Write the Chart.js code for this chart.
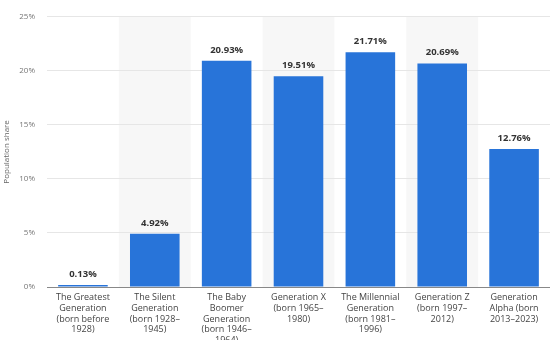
<!DOCTYPE html>
<html><head><meta charset="utf-8">
<script src="https://cdn.jsdelivr.net/npm/chart.js@4/dist/chart.umd.min.js"></script>
<style>html,body{margin:0;padding:0;background:#fff}#wrap{width:550px;height:340px}</style>
</head><body><div id="wrap"><canvas id="c" width="550" height="340"></canvas></div>
<script>
const categories = [
  ["The Greatest","Generation","(born before","1928)"],
  ["The Silent","Generation","(born 1928–","1945)"],
  ["The Baby","Boomer","Generation","(born 1946–","1964)"],
  ["Generation X","(born 1965–","1980)"],
  ["The Millennial","Generation","(born 1981–","1996)"],
  ["Generation Z","(born 1997–","2012)"],
  ["Generation","Alpha (born","2013–2023)"]
];
const shares = [0.13, 4.92, 20.93, 19.51, 21.71, 20.69, 12.76];
const yTicks = [0, 5, 10, 15, 20, 25];

const bandPlugin = {
  id: 'bands',
  beforeDraw(chart) {
    const {ctx, chartArea, scales} = chart;
    const x = scales.x;
    ctx.save();
    ctx.fillStyle = '#f7f7f7';
    const w = (chartArea.right - chartArea.left) / categories.length;
    for (let i = 1; i < categories.length; i += 2) {
      const cx = x.getPixelForValue(i);
      ctx.fillRect(cx - w/2, chartArea.top, w, chartArea.bottom - chartArea.top);
    }
    ctx.restore();
  }
};
const labelPlugin = {
  id: 'vals',
  afterDatasetsDraw(chart) {
    const {ctx} = chart;
    const meta = chart.getDatasetMeta(0);
    ctx.save();
    ctx.font = 'bold 9.5px "Open Sans"';
    ctx.fillStyle = '#333';
    ctx.textAlign = 'center';
    ctx.textBaseline = 'bottom';
    meta.data.forEach((b, i) => {
      ctx.fillText(shares[i].toFixed(2) + '%', b.x, b.y - 6);
    });
    ctx.restore();
  }
};

new Chart(document.getElementById('c'), {
  type: 'bar',
  data: {
    labels: categories,
    datasets: [{
      data: shares,
      backgroundColor: '#2874d9',
      borderWidth: 0,
      minBarLength: 2,
      categoryPercentage: 1,
      barPercentage: 0.69
    }]
  },
  options: {
    responsive: false,
    animation: false,
    events: [],
    layout: { padding: { top: 12, right: 0, left: 0, bottom: 0 } },
    plugins: { legend: { display: false }, tooltip: { enabled: false } },
    scales: {
      x: {
        grid: { display: false, drawTicks: false },
        border: { color: '#888', width: 1 },
        ticks: { color: '#444', font: { family: '"Open Sans"', size: 9 }, maxRotation: 0, autoSkip: false, padding: 5 },
        afterFit(s) { s.height = 53; }
      },
      y: {
        min: 0, max: 25,
        afterBuildTicks(s) { s.ticks = yTicks.map(v => ({value: v})); },
        grid: { color: '#e6e6e6', drawTicks: false },
        border: { display: false },
        ticks: { color: '#777', font: { family: '"Open Sans"', size: 8 }, padding: 12, callback: v => v + '%' },
        title: { display: true, text: 'Population share', color: '#666', font: { family: '"Open Sans"', size: 8 }, padding: 2 },
        afterFit(s) { s.width = 47; }
      }
    }
  },
  plugins: [bandPlugin, labelPlugin]
});
</script></body></html>
